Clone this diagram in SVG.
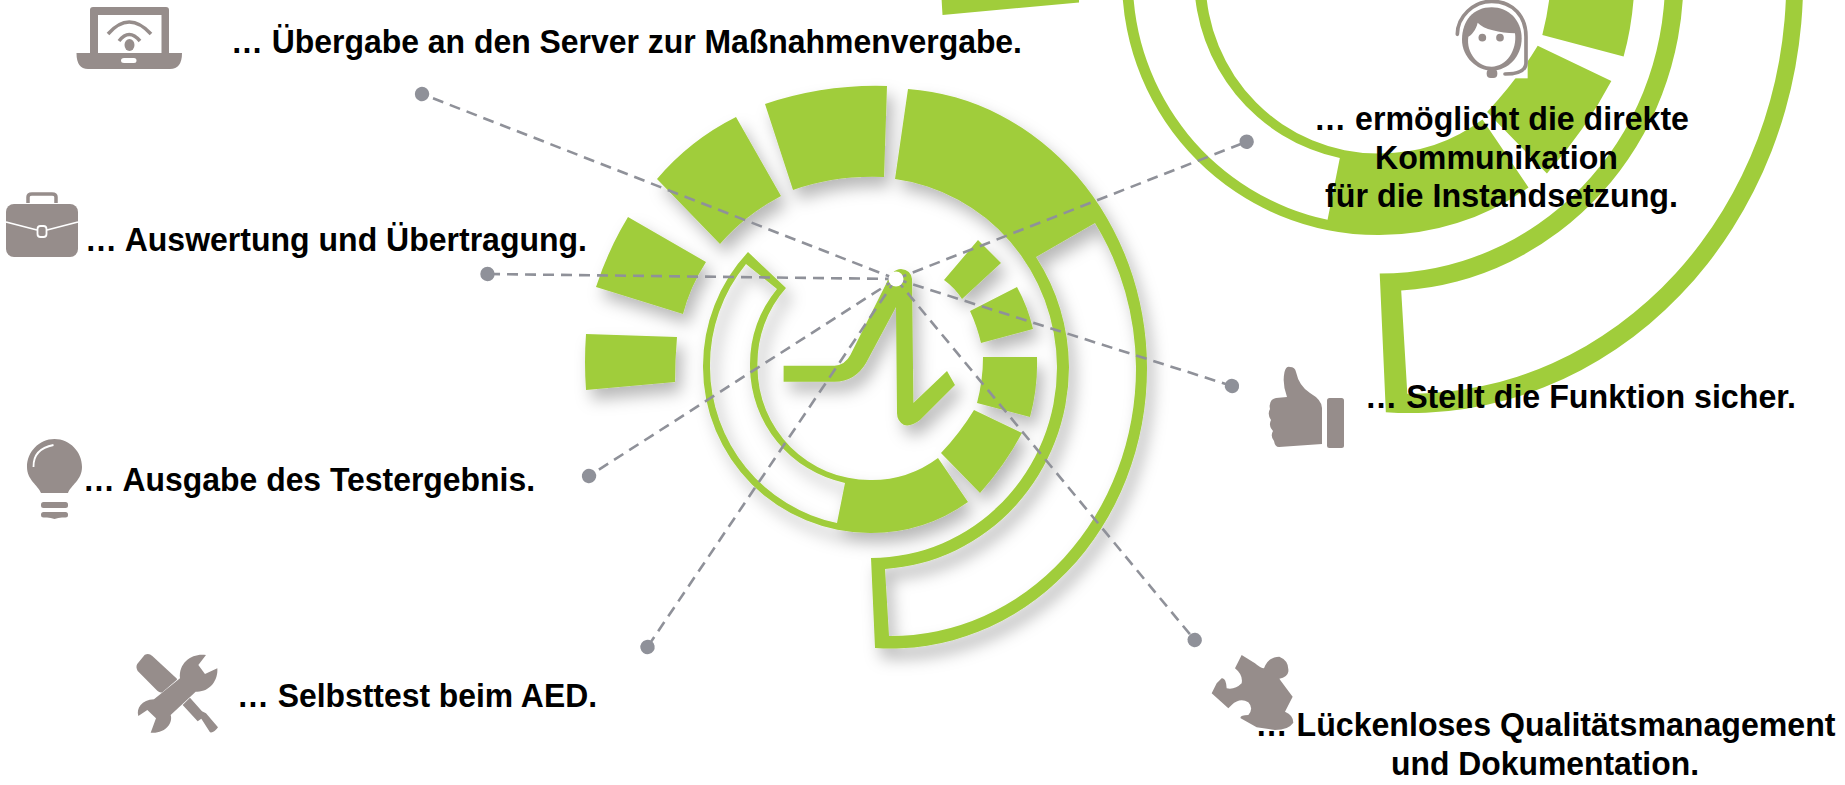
<svg xmlns="http://www.w3.org/2000/svg" xmlns:xlink="http://www.w3.org/1999/xlink" width="1845" height="785" viewBox="0 0 1845 785">
<style>
.g{fill:#a0cd3b}
.i{fill:#968d8b}
.is{fill:none;stroke:#968d8b}
.w{fill:#fff}
.ws{fill:none;stroke:#fff}
.t{font-family:"Liberation Sans",Arial,sans-serif;font-weight:700;font-size:32.500px;fill:#000}
.c{fill:none;stroke:#8f9199;stroke-width:2.600;stroke-dasharray:11 7}
</style>
<defs>
<filter id="sh" x="-10%" y="-10%" width="125%" height="125%"><feDropShadow dx="6" dy="10" stdDeviation="8" flood-color="#000" flood-opacity=".28"/></filter>
<marker id="dot" markerUnits="userSpaceOnUse" markerWidth="18" markerHeight="18" refX="9" refY="9" orient="auto"><circle cx="9" cy="9" r="7.200" fill="#8f9199"/></marker>
<g id="mark">
<path class="g" d="M586,334 L677,337 Q675,360 675,382 L586,390 Q584,362 586,334 Z"/>
<path class="g" d="M628,217 L706,262 Q690,287 683,314 L596,287 Q608,250 628,217 Z"/>
<path class="g" d="M736,117 L781,196 Q745,215 720,244 L657,179 Q690,140 736,117 Z"/>
<path class="g" d="M765,104 Q825,84 887,86 L884,177 Q835,175 793,190 Z"/>
<path class="g" d="M944,280 L978,240 L1001,263 L962,299 Q955,288 944,280 Z"/>
<path class="g" d="M970,311 L1017,287 Q1028,307 1033,329 L981,343 Q977,326 970,311 Z"/>
<path class="g" d="M983,357 L1037,357 Q1038,388 1030,417 L977,403 Q983,380 983,357 Z"/>
<path class="g" d="M974,410 L1022,433 Q1005,465 980,493 L941,453 Q960,433 974,410 Z"/>
<path class="g" fill-rule="evenodd" d="M748,252 A167,167 0 0 0 703,367 A167,166 0 0 0 870,533 A167,166 0 0 0 968,502 L938,458 A112,113 0 0 1 870,480 A112.500,113 0 0 1 757.500,367 A112,113 0 0 1 786,288 Z M746,264 L777,289 A120,120 0 0 0 750,367 A120,120 0 0 0 845,483 L837,523 A160,160 0 0 1 710,367 A160,160 0 0 1 746,264 Z"/>
<path class="g" fill-rule="evenodd" d="M908,89 A256,280 0 0 1 1147,367 A256,280 0 0 1 875,648 L871,558 A186,191 0 0 0 1057,367 A186,191 0 0 0 895,179 Z M1095,223 A245,268 0 0 1 1136,367 A245,268 0 0 1 889,636 L885,569 A196,203 0 0 0 1069,367 A196,203 0 0 0 1036,257 Z"/>
</g>
</defs>
<rect width="1845" height="785" fill="#fff"/>
<g id="mark-large"><use xlink:href="#mark" href="#mark" transform="matrix(1.534 0 0 1.540 43.600 -585.700)"/></g>
<g id="mark-center" filter="url(#sh)">
<use xlink:href="#mark" href="#mark"/>
<path class="g" d="M783.600,365.700 L834.600,365.700 Q845,365 850.400,355 L886,284 Q892,269 901,269 Q911,270 912,279 L913.400,403 L947,371 L955,385 L920,420 Q911,427 904,425 Q897,421 897,413 L896,307 L866,363 Q855,381.700 834.600,381.700 L783.600,381.700 Z"/>
</g>
<g id="connectors">
<path class="c" marker-end="url(#dot)" d="M896,279 L422,94"/>
<path class="c" marker-end="url(#dot)" d="M896,279 L487.500,274"/>
<path class="c" marker-end="url(#dot)" d="M896,279 L589,476"/>
<path class="c" marker-end="url(#dot)" d="M896,279 L647.500,647"/>
<path class="c" marker-end="url(#dot)" d="M896,279 L1194.700,640"/>
<path class="c" marker-end="url(#dot)" d="M896,279 L1232,386"/>
<path class="c" marker-end="url(#dot)" d="M896,279 L1246.600,141.700"/>
</g>
<circle id="hub" class="w" cx="896" cy="279" r="7.500"/>
<g id="node-server">
<path class="i" fill-rule="evenodd" d="M93,7 L166,7 Q169,7 169,10 L169,53 L182,53 Q182,69 170,69 L88,69 Q76.500,69 76.500,53 L90,53 L90,10 Q90,7 93,7 Z M98,15 L98,53 L161.500,53 L161.500,15 Z M124,58 Q121,58 121,60.500 Q121,63 124,63 L134,63 Q136.500,63 136.500,60.500 Q136.500,58 134,58 Z"/>
<path class="is" stroke-width="3.500" d="M108,34 Q129,10 151,34 M119,41 Q129,28 140,41"/>
<ellipse class="i" cx="129.500" cy="45" rx="5" ry="6"/>
<text class="t" x="231" y="52.500" textLength="791" lengthAdjust="spacingAndGlyphs">… Übergabe an den Server zur Maßnahmenvergabe.</text>
</g>
<g id="node-auswertung">
<rect class="i" x="6" y="204" width="72" height="53" rx="8"/>
<path class="is" stroke-width="3.500" d="M28,203 L28,197 Q28,194 32,194 L52,194 Q56,194 56,197 L56,203"/>
<path class="ws" stroke-width="1.800" d="M6,222 L37,230 M47,230 L78,222"/>
<rect fill="none" stroke="#fff" stroke-width="1.800" x="37.500" y="226" width="9" height="11" rx="3"/>
<text class="t" x="85" y="250.500" textLength="502" lengthAdjust="spacingAndGlyphs">… Auswertung und Übertragung.</text>
</g>
<g id="node-ergebnis">
<path class="i" d="M54.500,439 C39,439 27,452 27,467 C27,480 38,485 41,493 L68,493 C71,485 82,480 82,467 C82,452 70,439 54.500,439 Z"/>
<path class="ws" stroke-width="1.800" d="M33.500,467 Q33,449 53.500,445"/>
<rect class="i" x="41" y="502" width="27" height="6" rx="2.500"/>
<rect class="i" x="41" y="512" width="27" height="5.500" rx="2.500"/>
<path class="i" d="M47,517 L62,517 L54.500,519 Z"/>
<text class="t" x="83" y="491" textLength="452" lengthAdjust="spacingAndGlyphs">… Ausgabe des Testergebnis.</text>
</g>
<g id="node-selbsttest">
<g transform="translate(130,650) scale(.3333)">
<path class="i" stroke="#968d8b" stroke-width="6" stroke-linejoin="round" d="M24,44 L46,17 Q56,12 65,20 L138,88 L96,124 Q90,126 84,120 L26,62 Q20,52 24,44 Z"/>
<path class="i" d="M228,15 C190,8 145,35 150,85 L72,148 C35,150 18,175 25,198 L52,180 L78,205 L62,248 C105,252 130,220 122,195 L197,125 C238,128 265,92 262,55 L225,72 L205,45 Z"/>
<path class="i" d="M180,143 L158,165 L203,214 L214,206 L240,247 Q252,250 264,232 L228,190 L216,184 Z"/>
</g>
<text class="t" x="237" y="706.500" textLength="360" lengthAdjust="spacingAndGlyphs">… Selbsttest beim AED.</text>
</g>
<g id="node-kommunikation">
<g transform="translate(1440,0) scale(.3333)">
<rect class="w" x="48" y="0" width="215" height="235"/>
<path class="is" stroke-width="11" stroke-linecap="round" d="M52,103 C52,50 100,4 155,4 C220,4 258,50 258,110 L258,190 Q256,222 195,222"/>
<path class="i" d="M155,22 C100,22 66,62 66,120 C66,170 110,212 155,212 C205,212 245,170 245,115 C245,60 205,22 155,22 Z"/>
<path class="w" d="M113,68 C130,88 180,98 225,100 C232,150 200,200 155,200 C115,200 78,160 85,110 C95,105 108,90 113,68 Z"/>
<circle class="i" cx="127" cy="113" r="11.500"/>
<circle class="i" cx="180" cy="113" r="11.500"/>
<rect class="i" x="140" y="207" width="32" height="27" rx="12"/>
</g>
<text class="t" x="1314" y="130" textLength="375" lengthAdjust="spacingAndGlyphs">… ermöglicht die direkte</text>
<text class="t" x="1375" y="169" textLength="243" lengthAdjust="spacingAndGlyphs">Kommunikation</text>
<text class="t" x="1325" y="207" textLength="353" lengthAdjust="spacingAndGlyphs">für die Instandsetzung.</text>
</g>
<g id="node-funktion" transform="translate(-4,0)">
<path class="i" d="M1288.500,372 Q1290,366 1294,367 Q1299,367 1300,372 Q1303,386 1314,393 Q1326,400 1326,408 L1326,444 L1283,447 Q1279,447 1278,441 Q1274,436 1277,431 Q1272,426 1275,420 Q1271,414 1274,409 Q1272,400 1280,398 L1291,397 Q1286,384 1288.500,372 Z"/>
<rect class="i" x="1331" y="398" width="17" height="50" rx="2.500"/>
<text class="t" x="1369" y="408" textLength="431" lengthAdjust="spacingAndGlyphs">… Stellt die Funktion sicher.</text>
</g>
<g id="node-qualitaet">
<path class="i" transform="translate(1200,640) scale(.3333)" d="M125,45 L165,70 Q182,85 192,85 Q205,50 238,50 Q268,62 265,95 Q262,112 238,116 Q248,130 278,170 L255,215 Q280,225 280,248 Q265,270 225,270 L170,262 L122,235 Q118,225 145,225 Q162,205 145,187 Q120,172 95,195 L85,205 L35,160 L50,130 L65,115 Q78,112 80,145 Q105,150 125,130 Q130,105 105,85 Z"/>
<text class="t" x="1255.500" y="736" textLength="580" lengthAdjust="spacingAndGlyphs">… Lückenloses Qualitätsmanagement</text>
<text class="t" x="1391" y="775" textLength="308" lengthAdjust="spacingAndGlyphs">und Dokumentation.</text>
</g>
</svg>
